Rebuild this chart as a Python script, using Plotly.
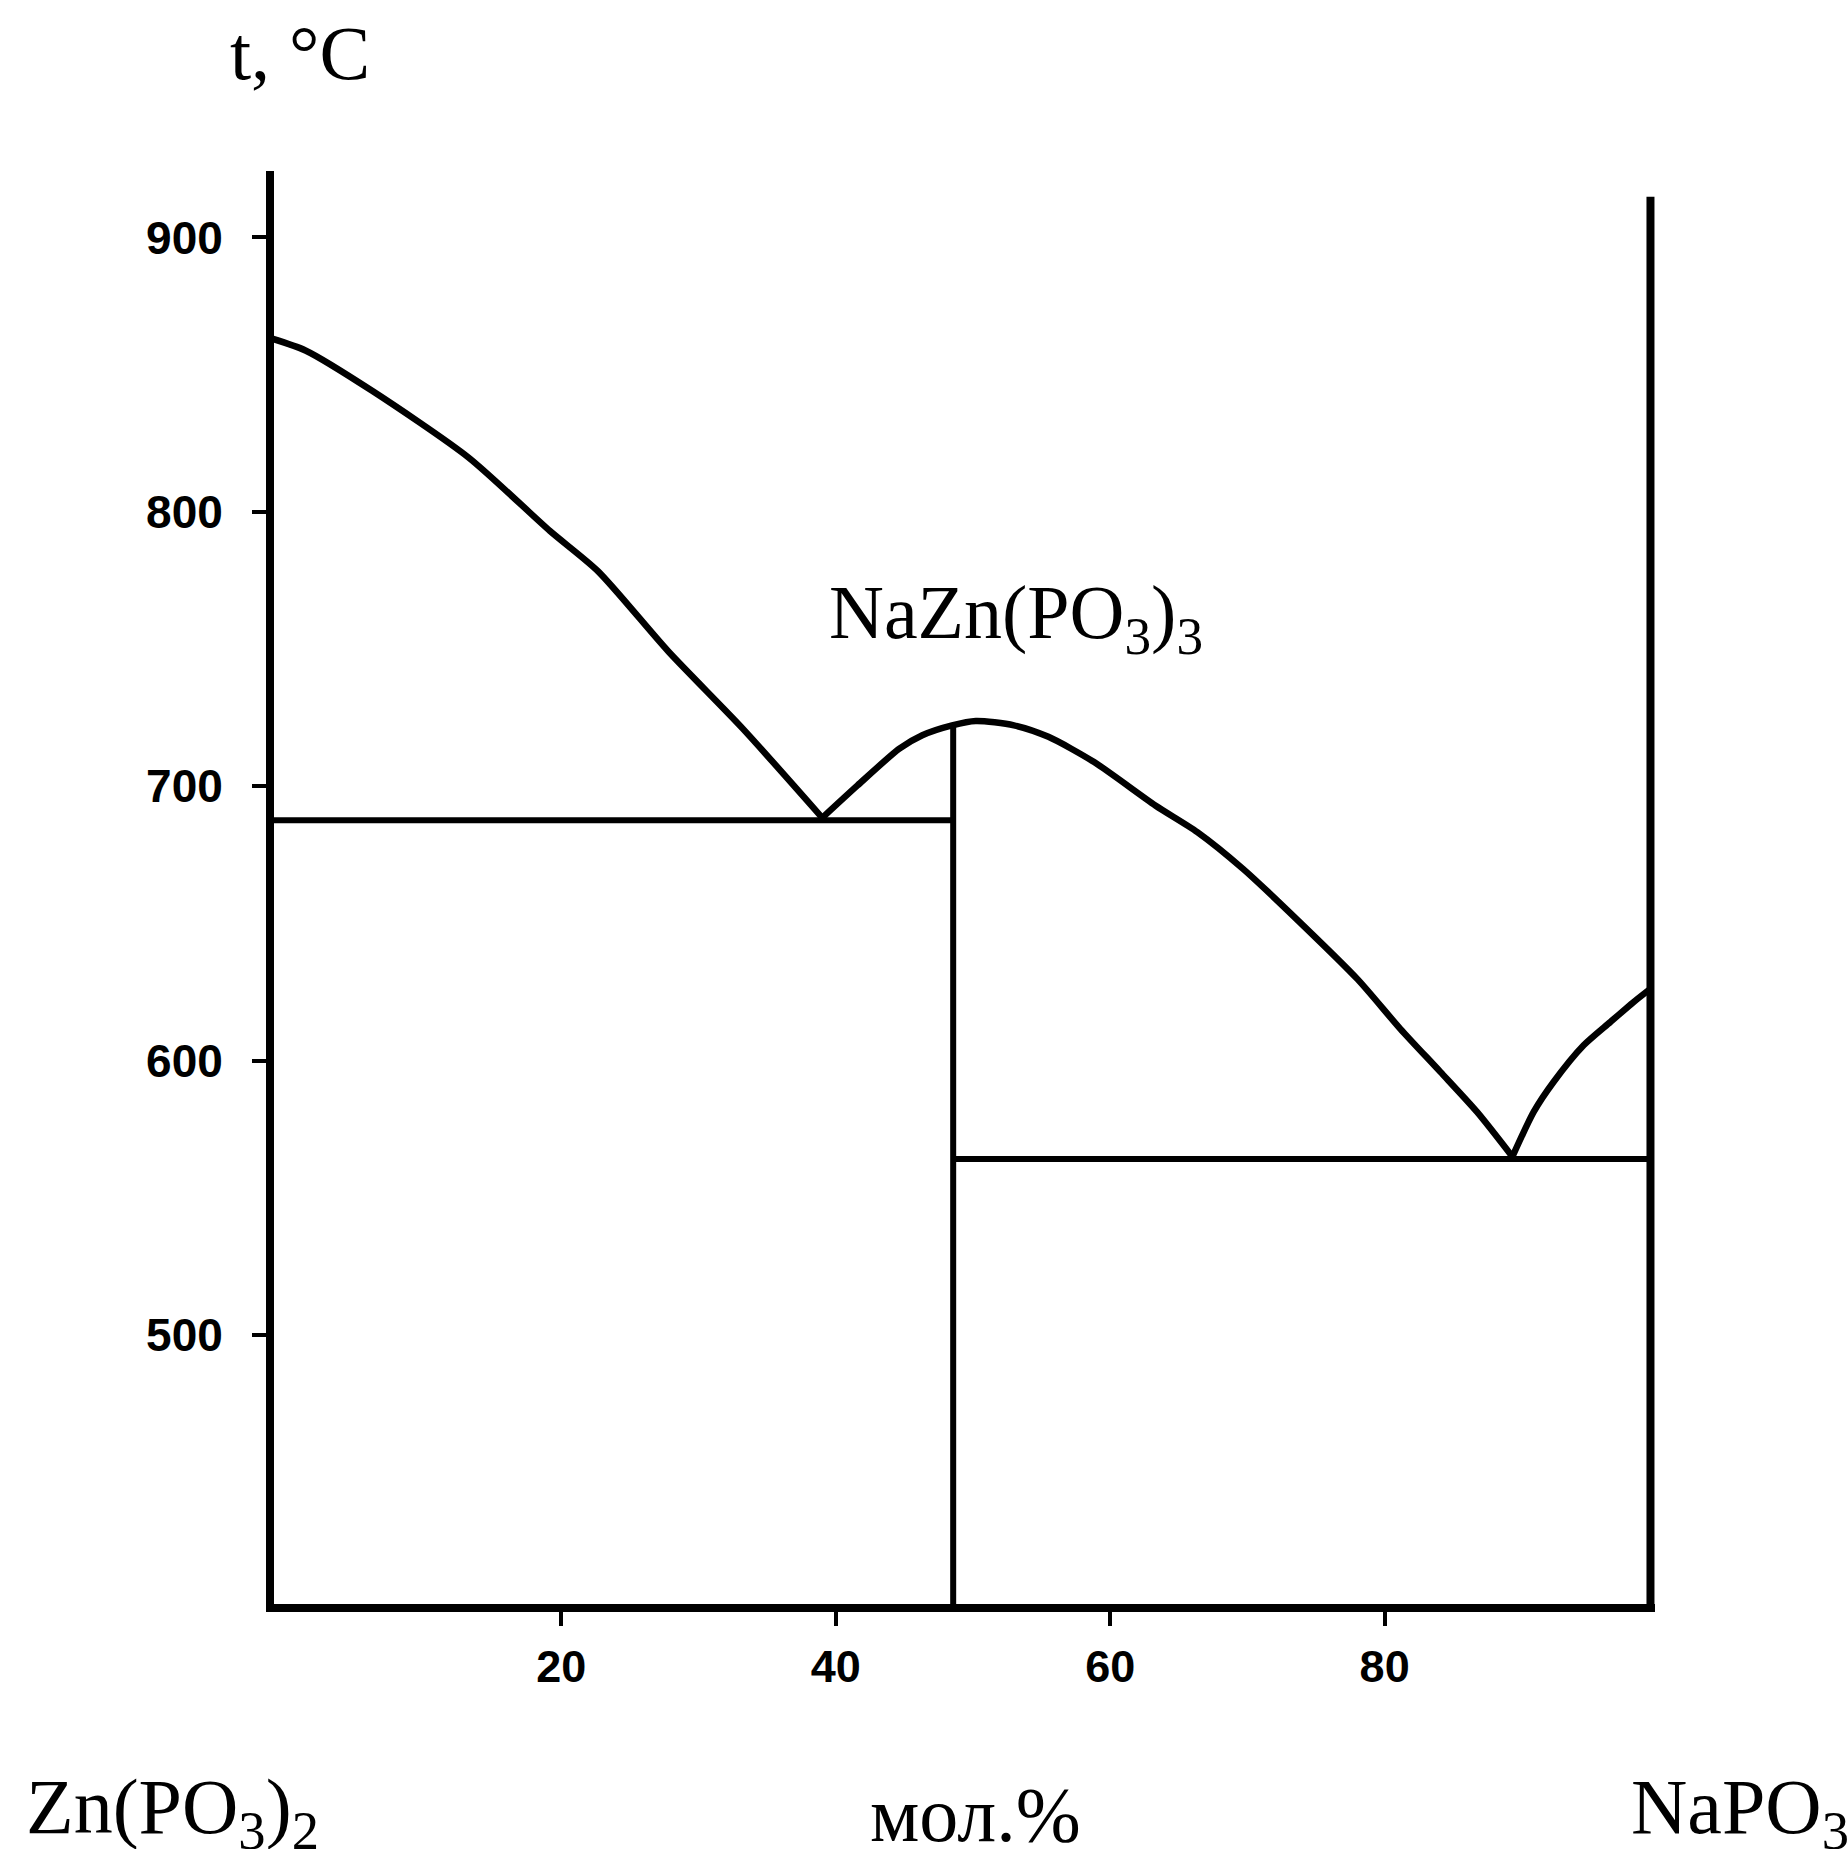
import plotly.graph_objects as go

# ---- data ----
liq_x = [-1.07, 1.36, 6.22, 13.24, 19.18, 22.67, 27.81, 33.21, 39.02, 41.59, 44.64,
         46.31, 48.48, 50.21, 52.99, 55.50, 58.83, 63.29, 66.35, 69.68, 73.58,
         78.02, 81.14, 84.06, 86.73, 89.31, 90.86, 92.32, 94.50, 96.45, 98.15, 99.37]
liq_t = [863.1, 858.8, 844.1, 819.8, 793.0, 778.4, 749.1, 721.1, 688.5, 700.3, 713.7,
         718.6, 722.2, 723.8, 722.2, 718.0, 708.8, 693.0, 683.3, 669.9, 651.6,
         629.7, 611.6, 595.9, 581.3, 565.0, 581.3, 592.3, 605.6, 614.1, 621.4, 626.2]
eutectic_idx = [8, 25]   # indices of the two eutectic points in the liquidus arrays

x_left, x_compound, x_right = -1.07, 48.56, 99.37
t_eut1, t_eut2 = 687.6, 564.2
t_min, t_top, t_right_top = 402.0, 924.2, 914.8
t_compound_top = 722.4

x_ticks = [20, 40, 60, 80]
t_ticks = [500, 600, 700, 800, 900]

# ---- layout geometry ----
W, H = 1848, 1849
L, T, B = 274, 171, 245
x_range = [-0.93, 99.7]
plot_w = 1380.6
R = W - L - plot_w

def px(X):
    return (X - L) / plot_w

def py(Y):
    return (H - B - Y) / (H - T - B)

fig = go.Figure()
line_c = "black"

# liquidus, split at the eutectic points so each branch is smoothed separately
bounds = [0] + eutectic_idx + [len(liq_x) - 1]
for a, b in zip(bounds[:-1], bounds[1:]):
    fig.add_trace(go.Scatter(x=liq_x[a:b + 1], y=liq_t[a:b + 1], mode="lines",
                             line=dict(color=line_c, width=6.5, shape="spline", smoothing=0.7),
                             hoverinfo="skip"))
# eutectic horizontals
fig.add_trace(go.Scatter(x=[x_left, x_compound], y=[t_eut1, t_eut1], mode="lines",
                         line=dict(color=line_c, width=6), hoverinfo="skip"))
fig.add_trace(go.Scatter(x=[x_compound, x_right], y=[t_eut2, t_eut2], mode="lines",
                         line=dict(color=line_c, width=6), hoverinfo="skip"))
# compound vertical
fig.add_trace(go.Scatter(x=[x_compound, x_compound], y=[t_min, t_compound_top], mode="lines",
                         line=dict(color=line_c, width=6), hoverinfo="skip"))
# right boundary (NaPO3)
fig.add_trace(go.Scatter(x=[x_right, x_right], y=[t_min, t_right_top], mode="lines",
                         line=dict(color=line_c, width=8), hoverinfo="skip"))

serif = "Liberation Serif"
ann = [
    dict(text="t, °C", x=px(228), y=py(53), size=76),
    dict(text="NaZn(PO<sub>3</sub>)<sub>3</sub>", x=px(827), y=py(618), size=76),
    dict(text="Zn(PO<sub>3</sub>)<sub>2</sub>", x=px(24), y=py(1812), size=78),
    dict(text="мол.%", x=px(868), y=py(1814), size=78),
    dict(text="NaPO<sub>3</sub>", x=px(1629), y=py(1812), size=78),
]
for a in ann:
    fig.add_annotation(text=a["text"], x=a["x"], y=a["y"], xref="paper", yref="paper",
                       xanchor="left", yanchor="middle", showarrow=False,
                       font=dict(family=serif, size=a["size"], color="black"))

fig.update_layout(
    width=W, height=H,
    margin=dict(l=L, r=R, t=T, b=B, pad=0),
    paper_bgcolor="white", plot_bgcolor="white",
    showlegend=False,
    xaxis=dict(range=x_range, tickvals=x_ticks, ticktext=[str(v) for v in x_ticks],
               showgrid=False, zeroline=False, showline=True, linecolor="black", linewidth=8,
               ticks="outside", ticklen=14, tickwidth=4, tickcolor="black",
               ticklabelstandoff=2,
               tickfont=dict(family="Liberation Sans", size=45, color="black", weight="bold")),
    yaxis=dict(range=[t_min, t_top], tickvals=t_ticks, ticktext=[str(v) for v in t_ticks],
               showgrid=False, zeroline=False, showline=True, linecolor="black", linewidth=8,
               ticks="outside", ticklen=14, tickwidth=4, tickcolor="black",
               ticklabelstandoff=20,
               tickfont=dict(family="Liberation Sans", size=46, color="black", weight="bold")),
)

fig.write_html("out.html", config={"displayModeBar": False},
               post_script="document.body.style.margin='0';")
